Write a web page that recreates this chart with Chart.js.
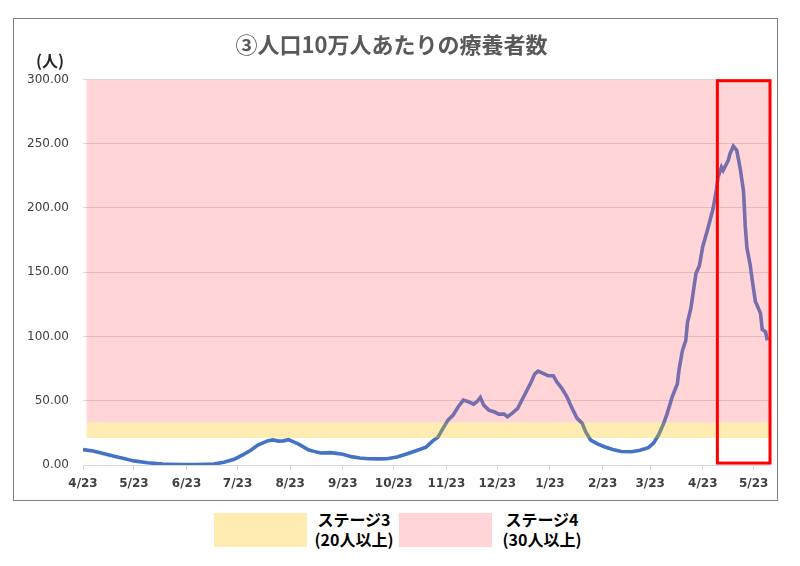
<!DOCTYPE html>
<html lang="ja">
<head>
<meta charset="utf-8">
<title>人口10万人あたりの療養者数</title>
<script src="https://cdn.jsdelivr.net/npm/chart.js@4.4.1/dist/chart.umd.min.js"></script>
<style>
  html, body { margin: 0; padding: 0; background: #fff; }
  body { width: 800px; height: 566px; position: relative; overflow: hidden; font-family: 'Noto Sans CJK JP', sans-serif; }
  #frame { position: absolute; left: 13px; top: 18px; width: 765px; height: 483px; box-sizing: border-box; border: 1px solid #808080; }
  #frame canvas { display: block; }
  #unit { position: absolute; left: 36px; top: 50px; font-size: 16px; font-weight: bold; color: #262626; line-height: 20px; }
  .swatch { position: absolute; top: 513px; width: 93px; height: 34px; }
  .legend-text { position: absolute; top: 509px; width: 100px; text-align: center; font-size: 16px; font-weight: bold; line-height: 20px; color: #000; }
</style>
</head>
<body>
<div id="frame"><canvas id="careChart"></canvas></div>
<div id="unit">(人)</div>
<div class="swatch" id="sw3" style="left:214px"></div>
<div class="legend-text" style="left:304px">ステージ3<br>(20人以上)</div>
<div class="swatch" id="sw4" style="left:399px"></div>
<div class="legend-text" style="left:492px">ステージ4<br>(30人以上)</div>

<script>
// x = days since 4/23 (2020)
const tickDays = [0, 30, 61, 91, 122, 153, 183, 214, 244, 275, 306, 334, 365, 395];
const tickLabels = ['4/23', '5/23', '6/23', '7/23', '8/23', '9/23', '10/23', '11/23', '12/23', '1/23', '2/23', '3/23', '4/23', '5/23'];

const sampleDays = [0, 6, 16, 24, 30, 38, 47, 57, 67, 77, 83, 89, 94, 99, 103, 109, 112, 115, 118, 121,
    126, 128, 133, 136, 140, 146, 153, 158, 163, 168, 174, 179, 185, 191, 197, 202, 206, 209, 212, 215,
    218, 221, 224, 227, 230, 232, 234, 236, 239, 242, 245, 248, 250, 253, 256, 258, 261, 264, 266, 268,
    271, 274, 277, 279, 282, 285, 288, 291, 294, 296, 299, 303, 307, 312, 317, 323, 328, 333, 336, 339,
    342, 344, 347, 350, 351, 353, 355, 356, 358, 359, 361, 363, 365, 368, 371, 373, 374, 376, 377, 380,
    381, 383, 385, 387, 389, 390, 391, 393, 394, 396, 397, 399, 400, 402, 403];
const patients = [12.0, 10.9, 7.5, 5.0, 3.2, 1.8, 0.7, 0.3, 0.3, 0.8, 2.1, 4.4, 7.8, 11.7, 15.5, 18.9, 19.5, 18.6, 18.8, 19.7,
    16.9, 15.5, 11.7, 10.6, 9.3, 9.6, 8.3, 6.5, 5.5, 4.9, 4.8, 4.9, 6.2, 8.8, 11.5, 13.9, 18.8, 21.5, 28.5, 35.0,
    38.9, 45.3, 50.5, 49.2, 47.4, 49.2, 52.6, 46.6, 42.7, 41.4, 39.6, 39.6, 37.5, 40.6, 44.1, 49.2, 57.0, 64.7, 70.7, 73.0,
    71.3, 69.4, 69.4, 64.7, 59.6, 53.1, 44.1, 36.3, 32.4, 25.9, 19.4, 16.5, 14.2, 12.0, 10.5, 10.3, 11.5, 13.5, 17.0, 23.5,
    32.4, 40.0, 53.0, 63.0, 74.0, 89.0, 97.0, 111.0, 122.0, 131.0, 149.0, 155.0, 170.0, 184.0, 199.0, 214.0, 224.0, 231.8, 229.3, 237.0,
    242.0, 248.0, 244.8, 231.0, 213.0, 186.0, 169.0, 155.0, 145.0, 127.0, 124.3, 118.0, 105.5, 103.6, 97.0];

// stage bands as drawn in the picture
const stage3Level = 21;
const stage4Level = 33;
const yMax = 300;
const bandDays = [2, 404];

// red frame around the latest period
const highlightDays = [373.6, 404.6];
const highlightValues = [1.5, 299];

const YELLOW = 'rgba(255, 192, 0, 0.3)';
const PINK = 'rgba(255, 100, 110, 0.27)';
const LINE_BLUE = '#4472C4';

document.getElementById('sw3').style.background = YELLOW;
document.getElementById('sw4').style.background = PINK;

const highlightBox = {
    id: 'highlightBox',
    afterDatasetsDraw(chart) {
        const { ctx, scales: { x, y } } = chart;
        const left = x.getPixelForValue(highlightDays[0]);
        const right = x.getPixelForValue(highlightDays[1]);
        const top = y.getPixelForValue(highlightValues[1]);
        const bottom = y.getPixelForValue(highlightValues[0]);
        ctx.save();
        ctx.strokeStyle = '#FF0000';
        ctx.lineWidth = 3;
        ctx.strokeRect(left, top, right - left, bottom - top);
        ctx.restore();
    }
};

const ctx = document.getElementById('careChart').getContext('2d');
new Chart(ctx, {
    type: 'line',
    data: {
        datasets: [
            {
                label: 'ステージ4',
                data: bandDays.map(d => ({ x: d, y: yMax })),
                fill: { value: stage4Level },
                backgroundColor: PINK,
                borderColor: 'transparent',
                borderWidth: 0,
                pointRadius: 0,
                order: 0
            },
            {
                label: 'ステージ3',
                data: bandDays.map(d => ({ x: d, y: stage4Level })),
                fill: { value: stage3Level },
                backgroundColor: YELLOW,
                borderColor: 'transparent',
                borderWidth: 0,
                pointRadius: 0,
                order: 1
            },
            {
                label: '療養者数',
                data: sampleDays.map((d, i) => ({ x: d, y: patients[i] })),
                borderColor: LINE_BLUE,
                borderWidth: 3.6,
                pointRadius: 0,
                tension: 0,
                fill: false,
                order: 2
            }
        ]
    },
    options: {
        responsive: true,
        maintainAspectRatio: false,
        animation: false,
        layout: { padding: { left: 0, right: 8, top: 0, bottom: 0 } },
        plugins: {
            legend: { display: false },
            tooltip: { enabled: false },
            title: {
                display: true,
                text: '③人口10万人あたりの療養者数',
                color: '#595959',
                font: { family: "'Noto Sans CJK JP', sans-serif", size: 22, weight: 'bold', lineHeight: 1.2 },
                padding: { top: 12, bottom: 22 }
            }
        },
        scales: {
            x: {
                type: 'linear',
                min: 0,
                max: 404,
                afterBuildTicks: s => { s.ticks = tickDays.map(v => ({ value: v })); },
                afterFit: s => { s.height = 35; },
                ticks: {
                    autoSkip: false,
                    maxRotation: 0,
                    padding: 7,
                    color: '#404040',
                    font: { family: "'DejaVu Sans', sans-serif", size: 12, weight: 'bold' },
                    callback: (v, i) => tickLabels[i]
                },
                grid: { drawOnChartArea: false, tickLength: 5, color: '#d9d9d9' },
                border: { color: '#d9d9d9' }
            },
            y: {
                min: 0,
                max: yMax,
                afterFit: s => { s.width = 69; },
                ticks: {
                    stepSize: 50,
                    padding: 14,
                    color: '#404040',
                    font: { family: "'DejaVu Sans', sans-serif", size: 12 },
                    callback: v => v.toFixed(2)
                },
                grid: { color: '#d9d9d9', drawTicks: false },
                border: { display: false }
            }
        }
    },
    plugins: [highlightBox]
});
</script>
</body>
</html>
